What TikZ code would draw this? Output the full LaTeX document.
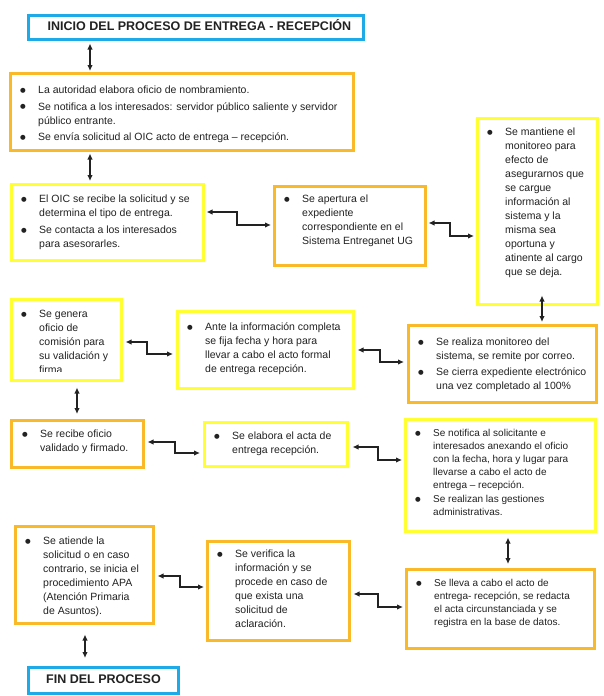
\documentclass[tikz,border=0pt]{standalone}
\usepackage{fontspec}
\setmainfont{Liberation Sans}
\newfontfamily\dvsfont{DejaVu Sans}
\usetikzlibrary{arrows.meta,calc}
\definecolor{borange}{RGB}{250,185,40}
\definecolor{byellow}{RGB}{255,255,50}
\definecolor{bblue}{RGB}{30,170,230}
\definecolor{txt}{RGB}{34,34,34}
\tikzset{
  obox/.style={draw=borange, line width=2.5pt, anchor=north west, inner sep=0pt},
  ybox/.style={draw=byellow, line width=2.5pt, anchor=north west, inner sep=0pt},
  bbox/.style={draw=bblue, line width=2.5pt, anchor=north west, inner sep=0pt},
  btxt/.style={anchor=base west, inner sep=0pt, text=txt, font=\fontsize{10.5}{14}\selectfont},
  stxt/.style={anchor=base west, inner sep=0pt, text=txt, font=\fontsize{10}{13}\selectfont},
  ttxt/.style={anchor=base, inner sep=0pt, text=txt, font=\bfseries\fontsize{12.5}{15}\selectfont},
  dar/.style={{Latex[length=6pt,width=5.5pt]}-{Latex[length=6pt,width=5.5pt]}, line width=1.2pt, draw=txt},
}
\newcommand{\bul}{\raisebox{1.2pt}{\dvsfont\fontsize{6.5}{6.5}\selectfont ●}}
\newenvironment{blist}{\begin{tabular}[t]{@{}p{18pt}@{}l@{}}}{\end{tabular}}
\begin{document}
\begin{tikzpicture}[x=1pt,y=-1pt]
\fill[white] (0,0) rectangle (604,696);
\useasboundingbox (0,0) rectangle (604,696);

% boxes
\node[bbox, minimum width=335pt, minimum height=24pt] (title) at (27,14) {};
\node[obox, minimum width=343pt, minimum height=77pt] (b1) at (9,72) {};
\node[ybox, minimum width=192pt, minimum height=76pt] (b2) at (10,183) {};
\node[obox, minimum width=151pt, minimum height=79pt] (b3) at (273,185) {};
\node[ybox, minimum width=120pt, minimum height=186pt] (b4) at (476,117) {};
\node[obox, minimum width=188pt, minimum height=77pt] (b5) at (407,324) {};
\node[ybox, minimum width=176pt, minimum height=77pt] (b6) at (176,310) {};
\node[ybox, minimum width=110pt, minimum height=81pt] (b7) at (10,298) {};
\node[obox, minimum width=132pt, minimum height=47pt] (b8) at (10,419) {};
\node[ybox, minimum width=143pt, minimum height=44pt] (b9) at (203,421) {};
\node[ybox, minimum width=190pt, minimum height=112pt] (b10) at (404,418) {};
\node[obox, minimum width=188pt, minimum height=79pt] (b11) at (405,568) {};
\node[obox, minimum width=142pt, minimum height=99pt] (b12) at (206,540) {};
\node[obox, minimum width=138pt, minimum height=97pt] (b13) at (14,525) {};
\node[bbox, minimum width=150pt, minimum height=26pt] (end) at (27,666) {};

% texts
\node[ttxt] (tt) at (199.5,30.5) {INICIO DEL PROCESO DE ENTREGA - RECEPCIÓN};
\node[ttxt] (te) at (103.5,683.5) {FIN DEL PROCESO};

\node[btxt] (t1) at (20,93.5) {\begin{blist}
\bul & La autoridad elabora oficio de nombramiento.\\[2.5pt]
\bul & Se notifica a los interesados: servidor público saliente y servidor\\
 & público entrante.\\[2.5pt]
\bul & Se envía solicitud al OIC acto de entrega – recepción.
\end{blist}};

\node[btxt] (t2) at (21,202.5) {\begin{blist}
\bul & El OIC se recibe la solicitud y se\\
 & determina el tipo de entrega.\\[3pt]
\bul & Se contacta a los interesados\\
 & para asesorarles.
\end{blist}};

\node[btxt] (t3) at (284,202.5) {\begin{blist}
\bul & Se apertura el\\
 & expediente\\
 & correspondiente en el\\
 & Sistema Entreganet UG
\end{blist}};

\node[btxt] (t4) at (487,135.5) {\begin{blist}
\bul & Se mantiene el\\
 & monitoreo para\\
 & efecto de\\
 & asegurarnos que\\
 & se cargue\\
 & información al\\
 & sistema y la\\
 & misma sea\\
 & oportuna y\\
 & atinente al cargo\\
 & que se deja.
\end{blist}};

\node[btxt] (t5) at (418,345.5) {\begin{blist}
\bul & Se realiza monitoreo del\\
 & sistema, se remite por correo.\\[2pt]
\bul & Se cierra expediente electrónico\\
 & una vez completado al 100\%
\end{blist}};

\node[btxt] (t6) at (187,330.5) {\begin{blist}
\bul & Ante la información completa\\
 & se fija fecha y hora para\\
 & llevar a cabo el acto formal\\
 & de entrega recepción.
\end{blist}};

\begin{scope}
\clip (0,290) rectangle (200,371);
\node[btxt] (t7) at (21,317.5) {\begin{blist}
\bul & Se genera\\
 & oficio de\\
 & comisión para\\
 & su validación y\\
 & firma
\end{blist}};
\end{scope}

\node[btxt] (t8) at (22,437.5) {\begin{blist}
\bul & Se recibe oficio\\
 & validado y firmado.
\end{blist}};

\node[btxt] (t9) at (214,439.5) {\begin{blist}
\bul & Se elabora el acta de\\
 & entrega recepción.
\end{blist}};

\node[stxt] (t10) at (415,436.5) {\begin{blist}
\bul & Se notifica al solicitante e\\
 & interesados anexando el oficio\\
 & con la fecha, hora y lugar para\\
 & llevarse a cabo el acto de\\
 & entrega – recepción.\\[1pt]
\bul & Se realizan las gestiones\\
 & administrativas.
\end{blist}};

\node[stxt] (t11) at (416,586.5) {\begin{blist}
\bul & Se lleva a cabo el acto de\\
 & entrega- recepción, se redacta\\
 & el acta circunstanciada y se\\
 & registra en la base de datos.
\end{blist}};

\node[btxt] (t12) at (217,557.5) {\begin{blist}
\bul & Se verifica la\\
 & información y se\\
 & procede en caso de\\
 & que exista una\\
 & solicitud de\\
 & aclaración.
\end{blist}};

\node[btxt] (t13) at (25,544.5) {\begin{blist}
\bul & Se atiende la\\
 & solicitud o en caso\\
 & contrario, se inicia el\\
 & procedimiento APA\\
 & (Atención Primaria\\
 & de Asuntos).
\end{blist}};

% connectors
\draw[dar] ($(title.south -| 90,0)+(0,3)$) -- ($(b1.north -| 90,0)+(0,-1)$);
\draw[dar] ($(b1.south -| 90,0)+(0,2)$) -- ($(b2.north -| 90,0)+(0,-2)$);
\draw[dar] ($(b2.east |- 0,212)+(2,0)$) -| (237,218) |- ($(b3.west |- 0,225)+(-2,0)$);
\draw[dar] ($(b3.east |- 0,223)+(2,0)$) -| (450,230) |- ($(b4.west |- 0,236)+(-2,0)$);
\draw[dar] ($(b4.south -| 542,0)+(0,-10)$) -- ($(b5.north -| 542,0)+(0,-2)$);
\draw[dar] ($(b6.east |- 0,350)+(3,0)$) -| (380,356) |- ($(b5.west |- 0,362)+(-3,0)$);
\draw[dar] ($(b7.east |- 0,342)+(3,0)$) -| (147,348) |- ($(b6.west |- 0,354)+(-3,0)$);
\draw[dar] ($(b7.south -| 77,0)+(0,6)$) -- ($(b8.north -| 77,0)+(0,-5)$);
\draw[dar] ($(b8.east |- 0,442)+(3,0)$) -| (175,448) |- ($(b9.west |- 0,453)+(-3,0)$);
\draw[dar] ($(b9.east |- 0,447)+(4,0)$) -| (378,453) |- ($(b10.west |- 0,460)+(-2,0)$);
\draw[dar] ($(b10.south -| 508,0)+(0,5)$) -- ($(b11.north -| 508,0)+(0,-4)$);
\draw[dar] ($(b12.east |- 0,594)+(3,0)$) -| (378,600) |- ($(b11.west |- 0,607)+(-2,0)$);
\draw[dar] ($(b13.east |- 0,576)+(3,0)$) -| (180,582) |- ($(b12.west |- 0,587)+(-2,0)$);
\draw[dar] ($(b13.south -| 85,0)+(0,10)$) -- ($(end.north -| 85,0)+(0,-8)$);
\end{tikzpicture}
\end{document}
